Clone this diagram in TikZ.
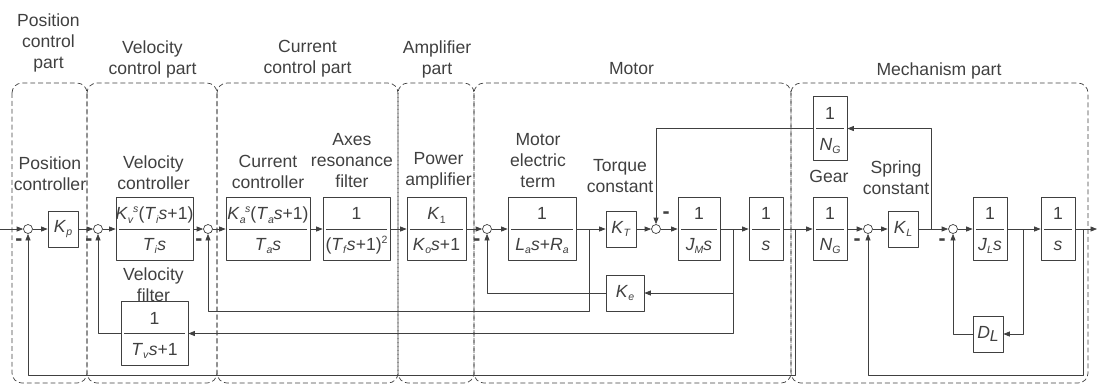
\documentclass[tikz,border=0pt]{standalone}
\usepackage{fontspec}
\setmainfont{Liberation Sans}
\usetikzlibrary{arrows.meta}

\newcommand{\sub}[1]{\raisebox{-1.8pt}{\fontsize{6}{6}\selectfont #1}}
\newcommand{\supr}[1]{\raisebox{4.2pt}{\fontsize{6}{6}\selectfont #1}}
\newcommand{\sym}[2]{\textit{#1}\sub{\textit{#2}}}
\newcommand{\tf}[3]{\vbox{\setbox0\hbox to #1{\hss#2\hss}\ht0=7.2pt\dp0=0pt\box0
		\kern5pt\hrule\kern5pt
		\setbox0\hbox to #1{\hss#3\hss}\ht0=7.2pt\dp0=0pt\box0}}

\begin{document}
\begin{tikzpicture}[x=0.02cm, y=-0.02cm, black!75, line join=round,
		>={Triangle[length=0.13cm, width=0.1cm]},
		blk/.style={draw, minimum width=0.6cm, minimum height=0.72cm, inner sep=0pt},
		tfblk/.style={draw, minimum height=1.27cm, inner xsep=0.06cm, inner ysep=0pt},
		sum/.style={circle, draw, minimum size=0.18cm, inner sep=0pt},
		minus/.style={font=\fontsize{12}{12}\bfseries\selectfont, inner sep=0pt},
		lbl/.style={align=center, inner sep=0pt, anchor=north},
		part/.style={dash pattern=on 2.8pt off 1.7pt, rounded corners=0.2cm}]

		\useasboundingbox (0,0) rectangle (1097,387);

		% ================= dashed parts =================
		\draw[part] (12,83) rectangle (87,383);
		\draw[part] (87,83) rectangle (217,383);
		\draw[part] (217,83) rectangle (398,383);
		\draw[part] (398,83) rectangle (474,383);
		\draw[part] (474,83) rectangle (791,383);
		\draw[part] (791,83) rectangle (1088,383);

		\node[lbl] (pospart) at (48.5,13) {Position\\control\\part};
		\node[lbl] (velpart) at (152.5,40) {Velocity\\control part};
		\node[lbl] (curpart) at (307.5,40) {Current\\control part};
		\node[lbl] (amppart) at (437,40) {Amplifier\\part};
		\node[lbl] (motpart) at (631.5,62) {Motor};
		\node[lbl] (mecpart) at (939,62) {Mechanism part};

		% ================= forward path =================
		\coordinate (in) at (0,229);
		\node[sum] (s1) at (28,229) {};
		\node[blk] (kp) at (63,229) {\sym{K}{p}};
		\node[sum] (s2) at (98,229) {};
		\node[tfblk] (vc) at (154.5,229) {\tf{1.42cm}{\textit{K}\sub{\textit{v}}\kern-0.3pt\supr{\textit{s}}(\sym{T}{i}\textit{s}+1)}{\sym{T}{i}\textit{s}}};
		\node[sum] (s3) at (208,229) {};
		\node[tfblk] (cc) at (268,229) {\tf{1.56cm}{\textit{K}\sub{\textit{a}}\kern-0.3pt\supr{\textit{s}}(\sym{T}{a}\textit{s}+1)}{\sym{T}{a}\textit{s}}};
		\node[tfblk] (af) at (356.5,229) {\tf{1.22cm}{1}{(\sym{T}{f}\textit{s}+1)\supr{2}}};
		\node[tfblk] (pa) at (436.5,229) {\tf{1.06cm}{\textit{K}\sub{1}}{\sym{K}{o}\textit{s}+1}};
		\node[sum] (s4) at (487,229) {};
		\node[tfblk] (et) at (542,229) {\tf{1.24cm}{1}{\sym{L}{a}\textit{s}+\sym{R}{a}}};
		\node[blk] (kt) at (621,229) {\sym{K}{T}};
		\node[sum] (s5) at (656,229) {};
		\node[tfblk] (jm) at (699,229) {\tf{0.72cm}{1}{\sym{J}{M}\textit{s}}};
		\node[tfblk] (in1) at (766,229) {\tf{0.56cm}{1}{\textit{s}}};
		\node[tfblk] (ng) at (830,229) {\tf{0.56cm}{1}{\sym{N}{G}}};
		\node[sum] (s6) at (868,229) {};
		\node[blk] (kl) at (903,229) {\sym{K}{L}};
		\node[sum] (s7) at (953,229) {};
		\node[tfblk] (jl) at (990,229) {\tf{0.56cm}{1}{\sym{J}{L}\textit{s}}};
		\node[tfblk] (in2) at (1058,229) {\tf{0.56cm}{1}{\textit{s}}};
		\coordinate (out) at (1097,229);

		% feedback blocks
		\node[tfblk] (vf) at (154.5,333.5) {\tf{1.22cm}{1}{\sym{T}{v}\textit{s}+1}};
		\node[blk, minimum width=0.76cm] (ke) at (625,293) {\sym{K}{e}};
		\node[tfblk] (ngt) at (830,128.5) {\tf{0.56cm}{1}{\sym{N}{G}}};
		\node[blk] (dl) at (988,334) {\textit{D}\raisebox{-1.5pt}{\small\textit{L}}};

		% block labels
		\node[lbl] (kplab) at (50,156) {Position\\controller};
		\node[lbl] (vclab) at (153.5,155) {Velocity\\controller};
		\node[lbl] (cclab) at (268,155) {Current\\controller};
		\node[lbl] (aflab) at (352,133) {Axes\\resonance\\filter};
		\node[lbl] (palab) at (438.5,152) {Power\\amplifier};
		\node[lbl] (etlab) at (538,133) {Motor\\electric\\term};
		\node[lbl] (ktlab) at (620,159) {Torque\\constant};
		\node[lbl] (nglab) at (829,170) {Gear};
		\node[lbl] (kllab) at (896,160) {Spring\\constant};
		\node[lbl] (vflab) at (153.5,267) {Velocity\\filter};

		% minus signs
		\node[minus] (m1) at ([shift={(-9,13)}]s1) {-};
		\node[minus] (m2) at ([shift={(-9,13)}]s2) {-};
		\node[minus] (m3) at ([shift={(-9,13)}]s3) {-};
		\node[minus] (m4) at ([shift={(-10,13)}]s4) {-};
		\node[minus] (m5) at ([shift={(10,-14)}]s5) {-};
		\node[minus] (m6) at ([shift={(-11,13)}]s6) {-};
		\node[minus] (m7) at ([shift={(-11,13)}]s7) {-};

		\draw[->] (in) -- (s1);
		\draw[->] (s1) -- (kp);
		\draw[->] (kp) -- (s2);
		\draw[->] (s2) -- (vc);
		\draw[->] (vc) -- (s3);
		\draw[->] (s3) -- (cc);
		\draw[->] (cc) -- (af);
		\draw[->] (af) -- (pa);
		\draw[->] (pa) -- (s4);
		\draw[->] (s4) -- (et);
		\draw[->] (et) -- (kt);
		\draw[->] (kt) -- (s5);
		\draw[->] (s5) -- (jm);
		\draw[->] (jm) -- (in1);
		\draw[->] (in1) -- (ng);
		\draw[->] (ng) -- (s6);
		\draw[->] (s6) -- (kl);
		\draw[->] (kl) -- (s7);
		\draw[->] (s7) -- (jl);
		\draw[->] (jl) -- (in2);
		\draw[->] (in2) -- (out);

		% ================= feedback paths =================
		\coordinate (b1) at (589,229);
		\coordinate (b2) at (733,229);
		\coordinate (b3) at (795,229);
		\coordinate (b4) at (931,229);
		\coordinate (b5) at (1023,229);
		\coordinate (b6) at (1083,229);

		\draw[->] (b3) -- ++(0,146) -| (s1.south);
		\draw[->] (b2) |- (vf.east);
		\draw[->] (vf.west) -| (s2.south);
		\draw[->] (b2) |- (ke.east);
		\draw[->] (ke.west) -| (s4.south);
		\draw[->] (b1) -- ++(0,82) -| (s3.south);
		\draw[->] (b4) |- (ngt.east);
		\draw[->] (ngt.west) -| (s5.north);
		\draw[->] (b5) |- (dl.east);
		\draw[->] (dl.west) -| (s7.south);
		\draw[->] (b6) -- ++(0,146) -| (s6.south);

	\end{tikzpicture}
\end{document}
